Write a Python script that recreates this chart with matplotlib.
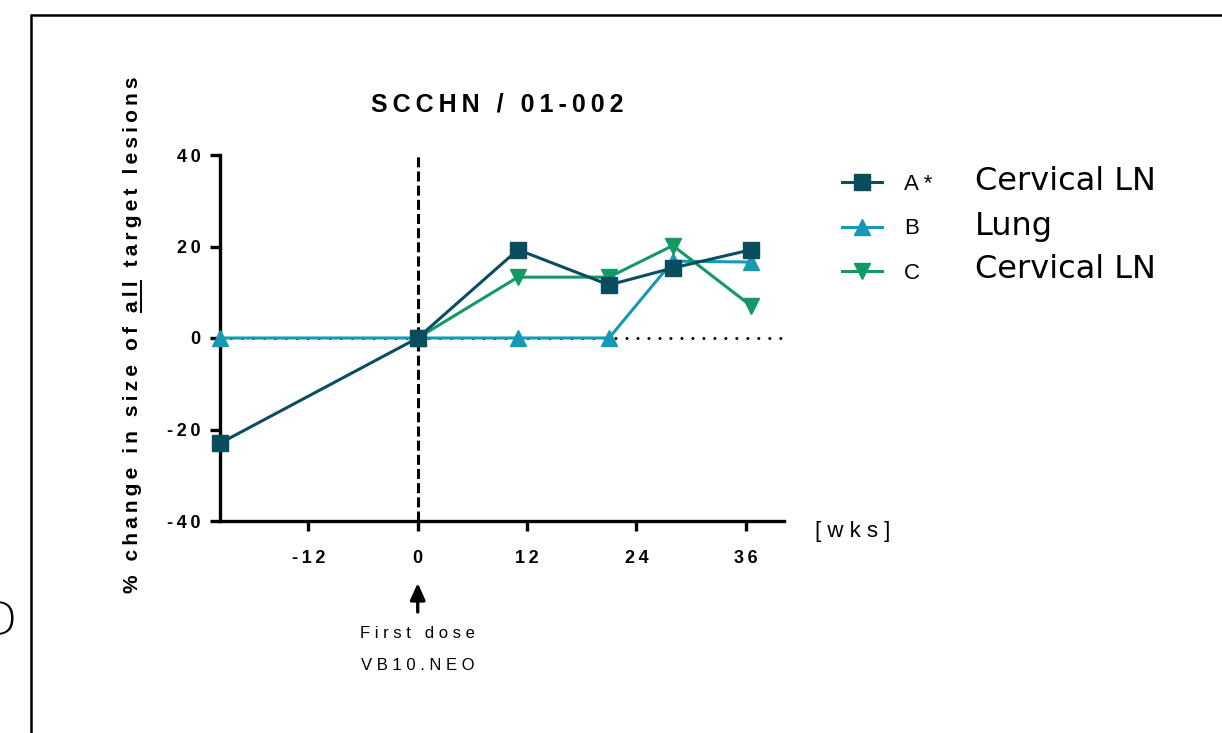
import matplotlib
matplotlib.use('Agg')
import matplotlib.pyplot as plt
from matplotlib.lines import Line2D
from matplotlib.patches import Rectangle

# lesion size change over time (weeks relative to first dose)
weeks_a = [-21.7, 0, 11, 21, 28, 36.6]
change_a = [-23.0, 0, 19.3, 11.6, 15.3, 19.3]
weeks_b = [-21.7, 0, 11, 21, 28, 36.6]
change_b = [0, 0, 0, 0, 16.8, 16.6]
weeks_c = [0, 11, 21, 28, 36.6]
change_c = [0, 13.3, 13.3, 20.2, 7.0]

lesion_ids = ['A*', 'B', 'C']
lesion_sites = ['Cervical LN', 'Lung', 'Cervical LN']
colors = ['#0a4d5f', '#1699b4', '#119a64']

x_ticks = [-12, 0, 12, 24, 36]
y_ticks = [-40, -20, 0, 20, 40]

plt.rcParams['lines.scale_dashes'] = False
FONT = ['Liberation Sans', 'DejaVu Sans']
THIN = '\u2009'


def spaced(s, gap=' '):
    # fake letter spacing by putting a gap between every character
    return gap.join(s)


def px(x, y):
    # image pixel (from top left) -> figure fraction
    return x / 1222, 1 - y / 733


fig = plt.figure(figsize=(12.22, 7.33), dpi=100)
ax = fig.add_axes([220 / 1222, 212 / 733, 564 / 1222, 366 / 733])

lw = 2.2
lb, = ax.plot(weeks_b, change_b, color=colors[1], lw=lw, marker='^', ms=12,
              clip_on=False, zorder=3)
lc, = ax.plot(weeks_c, change_c, color=colors[2], lw=lw, marker='v', ms=12,
              clip_on=False, zorder=4)
la, = ax.plot(weeks_a, change_a, color=colors[0], lw=lw, marker='s', ms=11.5,
              clip_on=False, zorder=5)

# baseline and first dose marker
ax.axhline(0, color='black', lw=2.2, ls=(0, (0.01, 7.9)), dash_capstyle='round', zorder=2)
ax.axvline(0, color='black', lw=2.2, ls=(0, (7.2, 3.0)), zorder=2)

ax.set_xlim(-21.7, 40.2)
ax.set_ylim(-40, 40)
for s in ['top', 'right']:
    ax.spines[s].set_visible(False)
for s in ['left', 'bottom']:
    ax.spines[s].set_linewidth(2.4)

ax.set_xticks(x_ticks)
ax.set_xticklabels([spaced(str(v), THIN) for v in x_ticks], family=FONT, weight='bold', fontsize=13)
ax.set_yticks(y_ticks)
ax.set_yticklabels([spaced(str(v), THIN) for v in y_ticks], family=FONT, weight='bold', fontsize=13)
ax.tick_params(axis='x', length=7, width=2.4, pad=14)
ax.tick_params(axis='y', length=7, width=2.4, pad=7)

# title
tx, ty = px(497, 104)
fig.text(tx, ty, spaced('SCCHN / 01-002', THIN), family=FONT, weight='bold',
         fontsize=18, ha='center', va='center')

# y label with "all" underlined
label = '% change in size of all target lesions'
lsize = 15
lx, ly = px(133, 335)
ylab = fig.text(lx, ly, spaced(label, THIN), family=FONT, weight='bold', fontsize=lsize,
                rotation=90, ha='center', va='center')
r = fig.canvas.get_renderer()
bb = ylab.get_window_extent(r)
tmp = fig.text(0, 0, spaced('% change in size of all', THIN), family=FONT, weight='bold',
               fontsize=lsize)
w_end = tmp.get_window_extent(r).width
tmp.set_text(spaced('all', THIN))
w_all = tmp.get_window_extent(r).width
tmp.remove()
_, _, lp_d = r.get_text_width_height_descent('lp', ylab.get_fontproperties(), ismath=False)
ux = bb.x1 - lp_d + 2.5
inv = fig.transFigure.inverted()
p0 = inv.transform((ux, bb.y0 + w_end - w_all))
p1 = inv.transform((ux, bb.y0 + w_end))
fig.add_artist(Line2D([p0[0], p1[0]], [p0[1], p1[1]], color='black', lw=1.4))

# x unit
wx, wy = px(815, 532)
fig.text(wx, wy, spaced('[wks]'), family=FONT, fontsize=16, ha='left', va='center')

# first dose arrow
ax.annotate('', xy=(0, 150), xytext=(0, 121), xycoords=('data', 'figure pixels'),
            textcoords=('data', 'figure pixels'), annotation_clip=False,
            arrowprops=dict(arrowstyle='-|>,head_length=1.0,head_width=0.45', lw=2.4,
                            color='black', shrinkA=0, shrinkB=0, mutation_scale=10))
ax.annotate(spaced('First dose'), xy=(0, 99), xycoords=('data', 'figure pixels'),
            ha='center', va='center', family=FONT, fontsize=12, annotation_clip=False)
ax.annotate(spaced('VB10.NEO'), xy=(0, 68), xycoords=('data', 'figure pixels'),
            ha='center', va='center', family=FONT, fontsize=12, annotation_clip=False)

# legend: lesion id next to marker, site name further right
leg = fig.legend([la, lb, lc], [spaced(s) for s in lesion_ids], loc='upper left',
                 bbox_to_anchor=px(842, 174), frameon=False, borderpad=0, borderaxespad=0,
                 handlelength=1.8, handletextpad=1.0, labelspacing=1.05,
                 prop={'family': FONT, 'size': 16})
for i, site in enumerate(lesion_sites):
    sx, sy = px(975, 182 + 44 * i)
    fig.text(sx, sy, site, family='DejaVu Sans', fontsize=23, ha='left', va='center')

# panel frame and letter
fig.add_artist(Rectangle(px(31, 1400), 2.0, (1400 - 15) / 733, transform=fig.transFigure,
                         fill=False, lw=1.8, color='black'))
dx, dy = px(17, 622)
fig.text(dx, dy, 'D', family='DejaVu Sans', weight=200, fontsize=34, ha='right', va='center')

fig.savefig('out.png', dpi=100)
